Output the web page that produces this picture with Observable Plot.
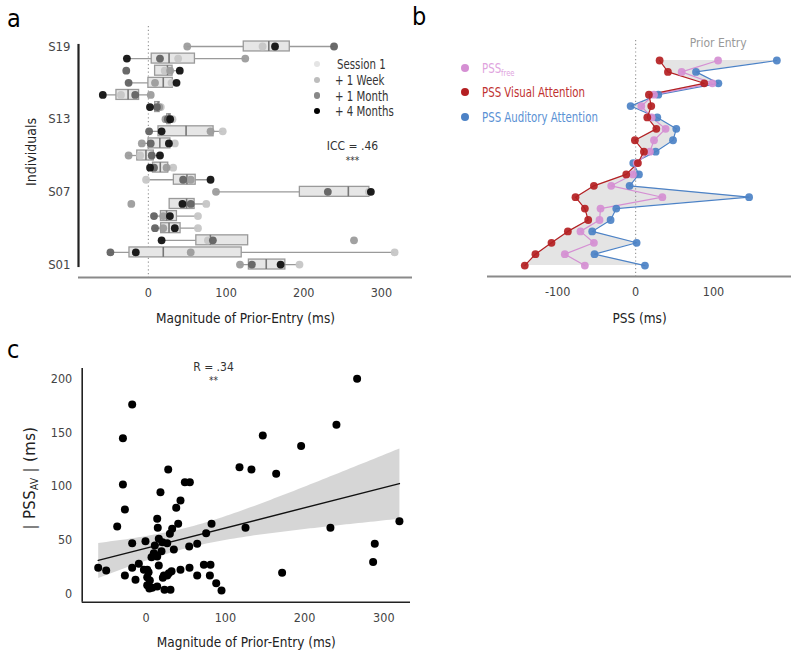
<!DOCTYPE html>
<html>
<head>
<meta charset="utf-8">
<script src="https://cdn.jsdelivr.net/npm/d3@7"></script>
<script src="https://cdn.jsdelivr.net/npm/@observablehq/plot@0.6"></script>
<style>
  body { margin: 0; background: #fff; }
  #root { position: relative; width: 800px; height: 655px; background: #fff; overflow: hidden;
    font-family: "DejaVu Sans Condensed", "Liberation Sans Narrow", "Liberation Sans", sans-serif; color: #222; }
  .abs { position: absolute; white-space: nowrap; }
  .panel { position: absolute; }
  .letter { position: absolute; font-size: 25px; line-height: 1; color: #000; }
  .lg-dot { position: absolute; border-radius: 50%; }
  .lg-txt { position: absolute; font-size: 13.5px; line-height: 16px; white-space: nowrap; transform: scaleX(0.84); transform-origin: 0 50%; }
</style>
</head>
<body>
<div id="root">
  <div class="panel" id="pa" style="left:0;top:0"></div>
  <div class="panel" id="pb" style="left:420px;top:0"></div>
  <div class="panel" id="pc" style="left:0;top:330px"></div>
</div>
<script>
const FONT = '"DejaVu Sans Condensed", "Liberation Sans Narrow", "Liberation Sans", sans-serif';

// ---------- Panel a data (S01 ... S19) ----------
const individuals = ["S01","S02","S03","S04","S05","S06","S07","S08","S09","S10","S11","S12","S13","S14","S15","S16","S17","S18","S19"];
const sessions = ["Session 1", "+ 1 Week", "+ 1 Month", "+ 4 Months"];
const sessionDotColors = ["#c6c6c6", "#9c9c9c", "#626262", "#111111"];
const sessionLegendColors = ["#e4e4e4", "#bdbdbd", "#888888", "#000000"];
const session1 = [194.5, 317, 76.6, 63.8, 63.8, 74.5, 283.8, -3, 31.9, -10.6, 34, 95.7, 31, 16, -35.3, 29.8, 21, 38.3, 147];
const week1    = [117.9, 54.5, 264.7, 19.1, 19.1, -22, 87, 54.5, 23.4, -25.5, -8.5, 80, 22, 14, 3, 8.5, 28, 124.7, 50];
const month1   = [133.2, -48.9, 83, 8.5, 7.2, 54.5, 231, 44.7, 7.2, 4.3, 3, 0.9, 25, 11, -17, -25.5, -28.5, 14.9, 239];
const month4   = [170.2, -16.2, 17, 34, 27.7, 43.8, 286.4, 80, 2.1, 14.9, 26.4, 17, 28, 2, -58.7, 36.2, 40.4, -27.7, 163];
const yTickIndividuals = ["S01", "S07", "S13", "S19"];
const xTicksA = [0, 100, 200, 300];

// ---------- Panel b data (rows top -> bottom: S19 ... S01) ----------
const pssVisual   = [30.8, 41.5, 88, 17.1, 20.1, 15, 26.6, -0.9, 10.7, 3, -12, -53.5, -77.1, -65.1, -60.8, -86.9, -107.9, -128.5, -142.2];
const pssFree     = [105.8, 59.1, 98.5, 23.6, 7.3, 20.6, 38.5, 23.6, 18.4, 1.3, -3.4, -31.3, 34.3, -45, -46.3, -70.7, -53.5, -90.8, -65.1];
const pssAuditory = [181.2, 77.5, 106.2, 29.1, -6.4, 27.8, 52.2, 48, 25.7, -3, 4.3, -7.7, 145.6, -24.8, -32.1, -55.7, 1.3, -52.7, 12];
const xTicksB = [-100, 0, 100];
const colFree = "#d58fd3", colVis = "#b41f22", colAud = "#4c82c6";

// ---------- Panel c data ----------
const priorEntry = [-60.6, -50.5, -36.6, -29.4, -29.4, -26.9, -26.9, -17.7, -17.7, -17.7, -13.5, -9.3, -0.9, -2.9,
  1.3, 1.3, 4.6, 1.3, 7.6, 4, 6.7, 9.6, 10.9, 13.9, 13.9, 14.6, 15.9, 15.9, 13.9, 18, 19.3, 21, 20.5, 11, 3,
  22.3, 26.5, 28.6, 32, 23.1, 30.7, 26.5, 27.8, 29.9, 32.8, 34.9, 37.9,
  40.4, 43.3, 43.3, 48.8, 55.1, 54.3, 54.7,
  64.4, 64.4, 75.7, 72.8, 81.2, 80.4, 82.5, 88.4, 95.1,
  117.8, 125.4, 132.9, 147.2, 164.1, 171.6, 195.6, 232.6, 240.2, 266.3, 286.5, 288.6, 319.7];
const pssAV = [24.2, 21.7, 62.6, 144.8, 101.7, 78.4, 17, 176, 47.1, 24.2, 13, 27.9, 48.9, 22.3,
  22.3, 15.5, 12.4, 8, 5.6, 5, 34, 37.8, 44.9, 34.7, 69.8, 61.4, 51.2, 26.3, 6.8, 94.5, 39.6, 15, 48, 36, 20,
  17, 17, 19.2, 21.1, 3.7, 3.7, 47.1, 115.7, 55.8, 60.5, 41.2, 80,
  65.1, 86.8, 22.3, 103.9, 103.9, 44, 24.2,
  46.5, 17, 56.4, 27, 27, 17, 65.1, 9.9, 3.1,
  117.8, 61.4, 115.7, 147.3, 111.6, 19.5, 137.4, 61.4, 157.2, 200, 29.5, 46.5, 67.6];
const xTicksC = [0, 100, 200, 300];
const yTicksC = [0, 50, 100, 150, 200];

const TICK = 12.5, TITLE = 13.5, NOTE = 12;

// ================= Panel a =================
const pointsA = [];
const statsA = individuals.map((name, i) => {
  const vals = [session1[i], week1[i], month1[i], month4[i]];
  vals.forEach((v, s) => pointsA.push({i, v, session: sessions[s]}));
  const s = vals.slice().sort(d3.ascending);
  const q1 = d3.quantileSorted(s, 0.25), med = d3.quantileSorted(s, 0.5), q3 = d3.quantileSorted(s, 0.75);
  const iqr = q3 - q1;
  const lo = d3.min(s.filter(v => v >= q1 - 1.5 * iqr));
  const hi = d3.max(s.filter(v => v <= q3 + 1.5 * iqr));
  return {i, q1, med, q3, lo, hi};
});
const xDomA = [-90, 340];
const yDomA = [-1.07, 19.65];
const halfBox = 0.41;

const plotA = Plot.plot({
  width: 420, height: 330,
  marginLeft: 78, marginRight: 8, marginTop: 26, marginBottom: 53,
  x: {domain: xDomA},
  y: {domain: yDomA},
  color: {domain: sessions, range: sessionDotColors},
  style: {fontFamily: FONT, fontSize: TICK + "px", color: "#444", background: "transparent", overflow: "visible"},
  marks: [
    Plot.ruleX([0], {stroke: "#9a9a9a", strokeDasharray: "1.2,2.6", strokeWidth: 1.2}),
    Plot.ruleY([yDomA[0]], {stroke: "#8a8a8a", strokeWidth: 2.2}),
    Plot.ruleX([xDomA[0]], {y1: -0.25, y2: 18.17, stroke: "#222", strokeWidth: 2.2}),
    Plot.ruleY(statsA, {y: "i", x1: "lo", x2: "hi", stroke: "#9a9a9a", strokeWidth: 1.3}),
    Plot.rect(statsA, {x1: "q1", x2: "q3", y1: d => d.i - halfBox, y2: d => d.i + halfBox, fill: "#e6e6e6", stroke: "#9a9a9a", strokeWidth: 1.3}),
    Plot.ruleX(statsA, {x: "med", y1: d => d.i - halfBox, y2: d => d.i + halfBox, stroke: "#777", strokeWidth: 1.6}),
    Plot.dot(pointsA, {x: "v", y: "i", fill: "session", r: 3.9, fillOpacity: 0.95}),
    Plot.axisX({ticks: xTicksA, tickSize: 0, tickPadding: 11, label: null, fontSize: TICK}),
    Plot.axisY({ticks: yTickIndividuals.map(n => individuals.indexOf(n)), tickFormat: i => individuals[i], tickSize: 0, tickPadding: 8, label: null, fontSize: 13}),
    Plot.text(["Magnitude of Prior-Entry (ms)"], {frameAnchor: "bottom", dy: 41, textAnchor: "middle", lineAnchor: "middle", fontSize: TITLE, fill: "#222"}),
    Plot.text(["Individuals"], {frameAnchor: "left", dx: -47, rotate: -90, textAnchor: "middle", lineAnchor: "middle", fontSize: 14, fill: "#222"}),
    Plot.text(["ICC = .46"], {frameAnchor: "top-left", dx: 274, dy: 120, textAnchor: "middle", lineAnchor: "middle", fontSize: NOTE, fill: "#333"}),
    Plot.text(["***"], {frameAnchor: "top-left", dx: 274, dy: 134, textAnchor: "middle", lineAnchor: "middle", fontSize: 10, fill: "#333"})
  ]
});
document.getElementById("pa").appendChild(plotA);

// ================= Panel b =================
const rowsB = pssVisual.map((v, k) => ({k, vis: v, free: pssFree[k], aud: pssAuditory[k]}));
const xDomB = [-190, 200];
const yDomB = [18.96, -1.756];

const plotB = Plot.plot({
  width: 380, height: 330,
  marginLeft: 67, marginRight: 9, marginTop: 40, marginBottom: 54,
  x: {domain: xDomB},
  y: {domain: yDomB, axis: null},
  style: {fontFamily: FONT, fontSize: TICK + "px", color: "#444", background: "transparent", overflow: "visible"},
  marks: [
    Plot.areaX(rowsB, {y: "k", x1: "vis", x2: "aud", fill: "#e4e4e4"}),
    Plot.ruleX([0], {stroke: "#9a9a9a", strokeDasharray: "1.2,2.6", strokeWidth: 1.2}),
    Plot.ruleY([yDomB[0]], {stroke: "#8a8a8a", strokeWidth: 2.2}),
    Plot.lineX(rowsB, {x: "aud", y: "k", stroke: colAud, strokeWidth: 1.2}),
    Plot.lineX(rowsB, {x: "free", y: "k", stroke: colFree, strokeWidth: 1.2}),
    Plot.lineX(rowsB, {x: "vis", y: "k", stroke: colVis, strokeWidth: 1.2}),
    Plot.dot(rowsB, {x: "aud", y: "k", fill: colAud, r: 3.9, fillOpacity: 0.92}),
    Plot.dot(rowsB, {x: "free", y: "k", fill: colFree, r: 3.9, fillOpacity: 0.92}),
    Plot.dot(rowsB, {x: "vis", y: "k", fill: colVis, r: 3.9, fillOpacity: 0.92}),
    Plot.axisX({ticks: xTicksB, tickFormat: d => String(d), tickSize: 0, tickPadding: 11, label: null, fontSize: TICK}),
    Plot.text(["PSS (ms)"], {frameAnchor: "bottom", dy: 42, textAnchor: "middle", lineAnchor: "middle", fontSize: TITLE, fill: "#222"}),
    Plot.text(["Prior Entry"], {frameAnchor: "top-left", dx: 230.7, dy: 3, textAnchor: "middle", lineAnchor: "middle", fontSize: NOTE, fill: "#999"})
  ]
});
document.getElementById("pb").appendChild(plotB);

// ================= Panel c =================
const ptsC = priorEntry.map((x, j) => ({x, y: pssAV[j]}));
const xDomC = [-80.8, 333.7];
const yDomC = [-7.8, 209.6];

const plotC = Plot.plot({
  width: 420, height: 325,
  marginLeft: 81.7, marginRight: 10, marginTop: 38, marginBottom: 53.3,
  x: {domain: xDomC},
  y: {domain: yDomC},
  style: {fontFamily: FONT, fontSize: TICK + "px", color: "#444", background: "transparent", overflow: "visible"},
  marks: [
    Plot.linearRegressionY(ptsC, {x: "x", y: "y", ci: 0.95, stroke: "#111", strokeWidth: 1.4, fill: "#cfcfcf", fillOpacity: 0.85}),
    Plot.dot(ptsC, {x: "x", y: "y", fill: "#000", r: 4}),
    Plot.ruleY([yDomC[0]], {stroke: "#222", strokeWidth: 1.6}),
    Plot.ruleX([xDomC[0]], {stroke: "#222", strokeWidth: 1.6}),
    Plot.axisX({ticks: xTicksC, tickSize: 0, tickPadding: 11, label: null, fontSize: TICK}),
    Plot.axisY({ticks: yTicksC, tickSize: 0, tickPadding: 10, label: null, fontSize: TICK}),
    Plot.text(["Magnitude of Prior-Entry (ms)"], {frameAnchor: "bottom", dy: 40, textAnchor: "middle", lineAnchor: "middle", fontSize: TITLE, fill: "#222"}),
    Plot.text(["R = .34"], {frameAnchor: "top-left", dx: 131.3, dy: -1.5, textAnchor: "middle", lineAnchor: "middle", fontSize: NOTE, fill: "#333"}),
    Plot.text(["**"], {frameAnchor: "top-left", dx: 131.3, dy: 12.5, textAnchor: "middle", lineAnchor: "middle", fontSize: 10, fill: "#333"})
  ]
});
document.getElementById("pc").appendChild(plotC);

// ================= HTML overlays: letters, legends, subscripted labels =================
const root = document.getElementById("root");
function add(html) { root.insertAdjacentHTML("beforeend", html); }
add(`<div class="letter" style="left:7px;top:6px">a</div>`);
add(`<div class="letter" style="left:412px;top:4px">b</div>`);
add(`<div class="letter" style="left:7px;top:337px">c</div>`);

// Panel a legend
const legAY = [64, 80, 95.5, 111];
sessions.forEach((s, k) => {
  add(`<div class="lg-dot" style="left:${316.7 - 3.2}px;top:${legAY[k] - 3.2}px;width:6.4px;height:6.4px;background:${sessionLegendColors[k]}"></div>`);
  add(`<div class="lg-txt" style="left:${k === 0 ? 337 : 335}px;top:${legAY[k] - 8}px;color:#333">${s}</div>`);
});

// Panel b legend
const legB = [
  {y: 67.7, dot: colFree, txt: "#e0a3de", html: 'PSS<sub style="font-size:9px;vertical-align:-3px">free</sub>'},
  {y: 92.3, dot: colVis, txt: "#c0312f", html: "PSS Visual Attention"},
  {y: 116.7, dot: colAud, txt: "#5a91d4", html: "PSS Auditory Attention"}
];
legB.forEach(l => {
  add(`<div class="lg-dot" style="left:${465 - 4}px;top:${l.y - 4}px;width:8px;height:8px;background:${l.dot}"></div>`);
  add(`<div class="lg-txt" style="left:481.5px;top:${l.y - 8}px;color:${l.txt}">${l.html}</div>`);
});

// Panel c y label with subscript
add(`<div class="abs" style="left:30px;top:478px;transform:translate(-50%,-50%) rotate(-90deg);font-size:16.5px;letter-spacing:0.4px;color:#222">|&nbsp;PSS<sub style="font-size:10px;vertical-align:-3px">AV</sub>&nbsp;|&nbsp;(ms)</div>`);
</script>
</body>
</html>
